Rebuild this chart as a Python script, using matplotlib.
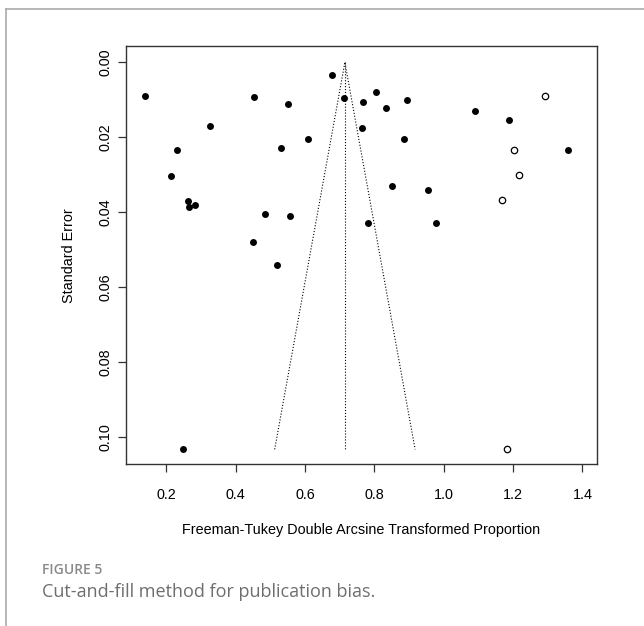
"""Funnel plot (trim-and-fill) for publication bias."""

import matplotlib

matplotlib.use("Agg")

import matplotlib.pyplot as plt
from matplotlib.lines import Line2D

# observed studies: transformed proportion and standard error
obs_tp = [0.139, 0.454, 0.550, 0.678, 0.712, 0.768, 0.326, 0.765, 0.609,
          0.532, 0.231, 0.2145, 0.2626, 0.2655, 0.2836, 0.4855, 0.5558,
          0.7807, 0.4491, 0.8055, 0.894, 0.8344, 1.090, 1.189, 0.8854,
          1.359, 0.8508, 0.9546, 0.9768, 0.520, 0.249]
obs_se = [0.0090, 0.0093, 0.0110, 0.0033, 0.0096, 0.0106, 0.0171, 0.0176,
          0.0205, 0.0228, 0.0235, 0.0302, 0.0369, 0.0387, 0.0380, 0.0406,
          0.0411, 0.0430, 0.0480, 0.0078, 0.0100, 0.0122, 0.0130, 0.0154,
          0.0205, 0.0233, 0.0330, 0.0341, 0.0430, 0.0540, 0.1033]

# imputed (filled) studies
fill_tp = [1.291, 1.2035, 1.218, 1.169, 1.1824]
fill_se = [0.0090, 0.0235, 0.0301, 0.0367, 0.1032]

pooled = 0.715
x_ticks = [0.2, 0.4, 0.6, 0.8, 1.0, 1.2, 1.4]
y_ticks = [0.00, 0.02, 0.04, 0.06, 0.08, 0.10]

plt.rcParams["font.family"] = ["Liberation Sans", "DejaVu Sans"]

fig = plt.figure(figsize=(6.44, 6.26), dpi=100)
ax = fig.add_axes([0.1961, 0.2588, 0.7304, 0.6673])

se_max = max(obs_se + fill_se)
ax.plot([pooled - 1.96 * se_max, pooled, pooled + 1.96 * se_max],
        [se_max, 0, se_max], color="black", ls=":", lw=0.8)
ax.plot([pooled, pooled], [0, se_max], color="black", ls=":", lw=0.8)

ax.plot(obs_tp, obs_se, "o", color="black", ms=5, mew=0)
ax.plot(fill_tp, fill_se, "o", mfc="white", mec="black", ms=4.6, mew=0.9)

ax.set_xlim(0.0847, 1.441)
ax.set_ylim(0.1072, -0.0043)
ax.set_xticks(x_ticks)
ax.set_xticklabels([f"{v:.1f}" for v in x_ticks])
ax.set_yticks(y_ticks)
ax.set_yticklabels([f"{v:.2f}" for v in y_ticks], rotation=90, va="center")
ax.tick_params(length=6, width=0.9, color="#333333", labelsize=10.4)
ax.tick_params(axis="x", pad=11)
ax.tick_params(axis="y", pad=4)
for s in ax.spines.values():
    s.set_color("#333333")
    s.set_linewidth(1.0)

ax.set_xlabel("Freeman-Tukey Double Arcsine Transformed Proportion",
              fontsize=10.4, labelpad=15.5)
ax.set_ylabel("Standard Error", fontsize=10.4, labelpad=16)

# page frame and caption
fig.add_artist(Line2D([6 / 644, 1], [1 - 9 / 626, 1 - 9 / 626],
                      color="#aaaaaa", lw=1.2))
fig.add_artist(Line2D([6 / 644, 6 / 644], [0, 1 - 9 / 626],
                      color="#aaaaaa", lw=1.2))
fig.text(42 / 644, 1 - 570 / 626, "FIGURE 5", fontsize=10,
         family="Open Sans", weight="semibold", color="#8a8a8a", va="center")
fig.text(42 / 644, 1 - 592 / 626, "Cut-and-fill method for publication bias.",
         fontsize=13, family="Open Sans", color="#6e6e6e", va="center")

fig.savefig("out.png", dpi=100)
plt.close(fig)
